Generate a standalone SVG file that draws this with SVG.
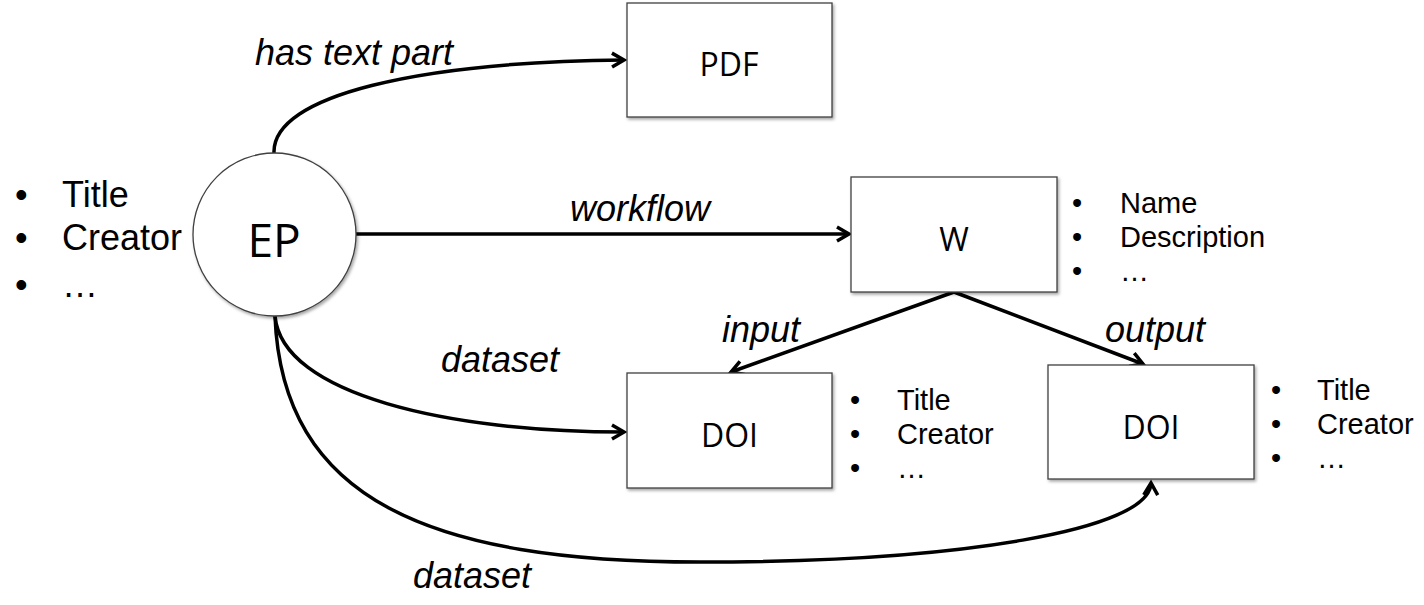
<svg xmlns="http://www.w3.org/2000/svg" width="1424" height="605" viewBox="0 0 1424 605">
<style>
.box{fill:#fff;stroke:#404040;stroke-width:1.3;filter:url(#sh)}
.lbl{font-family:"Liberation Sans",Arial,sans-serif;font-style:italic;font-size:36px;fill:#000}
.nt{font-family:"Open Sans","Liberation Sans",sans-serif;font-size:32px;fill:#000;text-anchor:middle}
.li{font-family:"Liberation Sans",Arial,sans-serif;fill:#000}
.c{fill:none;stroke:#000;stroke-width:3.5}
</style>
<defs>
<filter id="sh" x="-10%" y="-10%" width="125%" height="125%">
<feDropShadow dx="1.5" dy="2" stdDeviation="1.5" flood-color="#000" flood-opacity="0.35"/>
</filter>
<marker id="ar" viewBox="0 0 12 12" refX="10" refY="6" markerWidth="12" markerHeight="12" markerUnits="userSpaceOnUse" orient="auto" overflow="visible">
<path d="M-2,-1 L10,6 L-2,13" fill="none" stroke="#000" stroke-width="3.5" stroke-linejoin="miter"/>
</marker>
</defs>
<g id="connectors">
<path class="c" d="M274,153 C272,95 420,62 624,60" marker-end="url(#ar)"/>
<path class="c" d="M356,234 L849,234" marker-end="url(#ar)"/>
<path class="c" d="M954,292 L731,372" marker-end="url(#ar)"/>
<path class="c" d="M954,292 L1143,364" marker-end="url(#ar)"/>
<path class="c" d="M275,316 C282,395 450,432 624,432" marker-end="url(#ar)"/>
<path class="c" d="M275,316 C282,500 430,562 700,562 C960,562 1150,530 1151,483" marker-end="url(#ar)"/>
<text class="lbl" x="255" y="65">has text part</text>
<text class="lbl" x="570" y="221">workflow</text>
<text class="lbl" x="722" y="342">input</text>
<text class="lbl" x="1105" y="342">output</text>
<text class="lbl" x="441" y="372">dataset</text>
<text class="lbl" x="413" y="588">dataset</text>
</g>
<g id="ep">
<circle cx="274.5" cy="234.5" r="81.5" fill="#fff" stroke="#404040" stroke-width="1.3" filter="url(#sh)"/>
<text x="274" y="257" font-family="Open Sans,Liberation Sans,sans-serif" font-size="46" text-anchor="middle">EP</text>
</g>
<g id="ep-list" class="li" font-size="36">
<text x="15" y="207">•</text><text x="62" y="207">Title</text>
<text x="15" y="250">•</text><text x="62" y="250">Creator</text>
<text x="15" y="297">•</text><text x="62" y="297">…</text>
</g>
<g id="pdf">
<rect class="box" x="627" y="3" width="205" height="114"/>
<text class="nt" x="729" y="76">PDF</text>
</g>
<g id="w">
<rect class="box" x="851" y="177" width="206" height="115"/>
<text class="nt" x="954" y="251">W</text>
</g>
<g id="w-list" class="li" font-size="29">
<text x="1072" y="213">•</text><text x="1120" y="213">Name</text>
<text x="1072" y="247">•</text><text x="1120" y="247">Description</text>
<text x="1072" y="281">•</text><text x="1120" y="281">…</text>
</g>
<g id="doi1">
<rect class="box" x="627" y="373" width="205" height="115"/>
<text class="nt" x="729.5" y="447">DOI</text>
</g>
<g id="doi1-list" class="li" font-size="29">
<text x="850" y="410">•</text><text x="897" y="410">Title</text>
<text x="850" y="444">•</text><text x="897" y="444">Creator</text>
<text x="850" y="478">•</text><text x="897" y="478">…</text>
</g>
<g id="doi2">
<rect class="box" x="1048" y="365" width="206" height="114"/>
<text class="nt" x="1151" y="439">DOI</text>
</g>
<g id="doi2-list" class="li" font-size="29">
<text x="1271" y="400">•</text><text x="1317" y="400">Title</text>
<text x="1271" y="434">•</text><text x="1317" y="434">Creator</text>
<text x="1271" y="468">•</text><text x="1317" y="468">…</text>
</g>
</svg>
